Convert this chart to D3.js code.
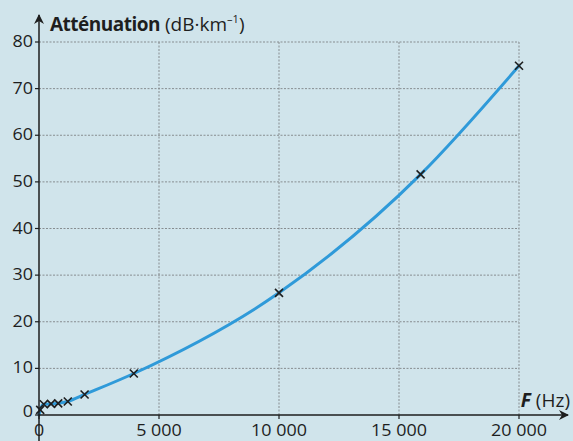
<!DOCTYPE html>
<html lang="fr">
<head>
<meta charset="UTF-8">
<title>Atténuation</title>
<script src="https://d3js.org/d3.v7.min.js"></script>
<style>
  body { margin: 0; background: #d0e4eb; }
  svg { display: block; }
  text { font-family: "Open Sans", "Noto Sans", sans-serif; fill: #1e1e1e; }
</style>
</head>
<body>
<svg id="chart" width="573" height="441"></svg>
<script>
// measured points (F in Hz, attenuation in dB/km)
const freq = [50, 200, 500, 800, 1200, 1900, 3950, 10000, 15900, 20000];
const atten = [1.1, 2.3, 2.4, 2.5, 2.9, 4.4, 8.9, 26.2, 51.6, 74.9];
const xTicks = [0, 5000, 10000, 15000, 20000];
const xTickLabels = ['0', '5 000', '10 000', '15 000', '20 000'];
const yTicks = [0, 10, 20, 30, 40, 50, 60, 70, 80];

const svg = d3.select('#chart');
const x = d3.scaleLinear().domain([0, 20000]).range([39, 519]);
const y = d3.scaleLinear().domain([0, 80]).range([415, 42]);

// grid
const grid = svg.append('g').attr('stroke', '#878d90').attr('stroke-width', 1)
  .attr('stroke-dasharray', '2,1.5');
grid.selectAll('line.h').data(yTicks.slice(1)).join('line')
  .attr('x1', x(0)).attr('x2', x(20000))
  .attr('y1', d => y(d)).attr('y2', d => y(d));
grid.selectAll('line.v').data(xTicks.slice(1)).join('line')
  .attr('x1', d => x(d)).attr('x2', d => x(d))
  .attr('y1', y(80)).attr('y2', y(0));

// curve through the points, starting at origin
const pts = [[0, 0]].concat(freq.map((f, i) => [f, atten[i]]));
svg.append('path')
  .datum(pts)
  .attr('fill', 'none')
  .attr('stroke', '#2f9ad9')
  .attr('stroke-width', 3)
  .attr('stroke-linecap', 'round')
  .attr('d', d3.line().x(d => x(d[0])).y(d => y(d[1])).curve(d3.curveMonotoneX));

// axes with arrows
svg.append('defs').append('marker')
  .attr('id', 'arrow').attr('viewBox', '0 0 10 10')
  .attr('refX', 9).attr('refY', 5)
  .attr('markerWidth', 10).attr('markerHeight', 10)
  .attr('markerUnits', 'userSpaceOnUse')
  .attr('orient', 'auto')
  .append('path').attr('d', 'M0,0 L10,5 L0,10 L3,5 Z').attr('fill', '#1e1e1e');

svg.append('line').attr('x1', x(0)).attr('x2', 568).attr('y1', y(0)).attr('y2', y(0))
  .attr('stroke', '#1e1e1e').attr('stroke-width', 1.5).attr('marker-end', 'url(#arrow)');
svg.append('line').attr('x1', x(0)).attr('x2', x(0)).attr('y1', 441).attr('y2', 15)
  .attr('stroke', '#1e1e1e').attr('stroke-width', 1.5).attr('marker-end', 'url(#arrow)');

// tick marks
svg.selectAll('line.yt').data(yTicks).join('line')
  .attr('x1', x(0) - 4).attr('x2', x(0))
  .attr('y1', d => y(d)).attr('y2', d => y(d))
  .attr('stroke', '#1e1e1e').attr('stroke-width', 1.2);
svg.selectAll('line.xt').data(xTicks).join('line')
  .attr('x1', d => x(d)).attr('x2', d => x(d))
  .attr('y1', y(0)).attr('y2', y(0) + 4)
  .attr('stroke', '#1e1e1e').attr('stroke-width', 1.2);

// tick labels (digits in the scan are wide, so stretch them a bit)
svg.selectAll('text.yl').data(yTicks).join('text')
  .attr('transform', d => `translate(33,${d === 0 ? y(d) + 2 : y(d) + 5}) scale(1.12,1)`)
  .attr('text-anchor', 'end').attr('font-size', 16)
  .text(d => d);
svg.selectAll('text.xl').data(xTicks).join('text')
  .attr('transform', d => `translate(${x(d)},436) scale(1.12,1)`)
  .attr('text-anchor', 'middle').attr('font-size', 16)
  .text((d, i) => xTickLabels[i]);

// markers
const cross = 4;
const mk = svg.append('g').attr('stroke', '#1e1e1e').attr('stroke-width', 1.6);
freq.forEach((f, i) => {
  const cx = x(f), cy = y(atten[i]);
  mk.append('path').attr('d', `M${cx - cross},${cy - cross}L${cx + cross},${cy + cross}M${cx - cross},${cy + cross}L${cx + cross},${cy - cross}`);
});

// axis titles
const t = svg.append('text').attr('x', 50).attr('y', 31).attr('font-size', 19);
t.append('tspan').attr('font-weight', 'bold').attr('letter-spacing', -0.5).text('Atténuation');
t.append('tspan').text(' (dB·km');
t.append('tspan').attr('font-size', 11).attr('dy', -8).text('–1');
t.append('tspan').attr('dy', 8).text(')');

const ft = svg.append('text').attr('x', 570).attr('y', 407).attr('text-anchor', 'end').attr('font-size', 19);
ft.append('tspan').attr('font-weight', 'bold').attr('font-style', 'italic').text('F');
ft.append('tspan').text(' (Hz)');
</script>
</body>
</html>
